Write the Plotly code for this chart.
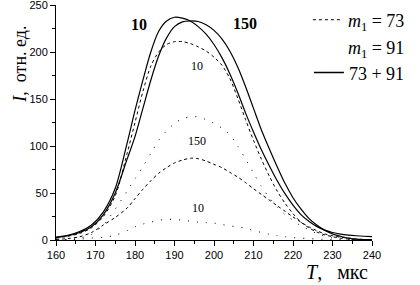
import plotly.graph_objects as go

T = [160, 163, 166, 169, 172, 175, 178, 180, 182, 184, 186, 188, 190, 192, 194, 196, 198, 200,
     202, 204, 206, 208, 210, 212, 214, 216, 218, 220, 222, 224, 226, 228, 230, 232, 234, 236, 238, 240]

sum_10 = [3, 5, 9, 16, 30, 55, 103, 138, 170, 200, 222, 233, 237, 236, 233, 227, 219, 208,
          194, 177, 157, 135, 115, 96, 79, 63, 49, 37, 27, 20, 14.5, 10.5, 8, 6.3, 5.2, 4.5, 4, 3.5]
sum_150 = [2.5, 4.5, 8, 14, 27, 50, 86, 110, 140, 170, 196, 215, 227, 232, 233, 232.5, 229, 223,
           214, 201, 184, 163, 140, 117, 97, 78, 60, 45, 33, 23, 16, 10.5, 6.5, 4, 2, 1, 0.5, 0.3]
m73_10 = [2, 4, 7, 13, 25, 47, 92, 125, 158, 185, 200, 208, 211, 211, 209, 205.5, 201, 194.5,
          186, 172, 151, 128, 106, 86, 68, 52, 39, 28, 19, 13, 8.5, 5.5, 3.5, 2, 1, 0.5, 0.2, 0]
m73_150 = [0.5, 1.5, 3.5, 8, 16, 24, 34, 44, 54, 63, 71, 77, 82, 85, 87, 86.5, 84, 80.5,
           77, 72, 67, 61, 54.5, 48.5, 42.5, 36.5, 30.5, 24.5, 19, 14, 10, 6.5, 4.5, 3, 2, 1, 0.5, 0.2]
m91_10 = [0, 0.3, 1, 2, 3, 5, 10, 14, 17, 19, 21, 22, 22, 21, 20, 19, 18.5, 18,
          16.5, 15, 14, 12.5, 10, 8, 6, 4.5, 3.5, 2.5, 2, 1.5, 1, 0.7, 0.5, 0.3, 0.2, 0.1, 0, 0]
m91_150 = [0, 0.5, 2, 6, 16, 33, 52, 65, 78, 92, 106, 116, 124, 129, 131, 131, 128, 124,
           119, 112, 100, 86, 71, 57, 45, 35, 27, 21, 15, 11, 7, 4, 2, 1, 0.5, 0.2, 0, 0]

x_ticks = [160, 170, 180, 190, 200, 210, 220, 230, 240]
y_ticks = [0, 50, 100, 150, 200, 250]

legend_names = ["<i>m</i><sub>1</sub> = 73", "<i>m</i><sub>1</sub> = 91", "73 + 91"]

# curve labels: (text, T, I, bold)
labels = [("10", 181, 229, True), ("150", 207.8, 230, True),
          ("10", 195.7, 185, False), ("150", 195.7, 105, False), ("10", 196, 34, False)]

SERIF = "Liberation Serif, Times New Roman, serif"
SANS = "Liberation Sans, Arial, sans-serif"

fig = go.Figure()
dash73 = "3px,3px"
dot91 = "1px,8px"
for ys in [m73_10, m73_150]:
    fig.add_trace(go.Scatter(x=T, y=ys, mode="lines",
                             line=dict(color="black", width=1, dash=dash73, shape="spline", smoothing=0.8),
                             showlegend=False, hoverinfo="skip"))
for ys in [m91_10, m91_150]:
    fig.add_trace(go.Scatter(x=T, y=ys, mode="lines",
                             line=dict(color="black", width=1, dash=dot91, shape="spline", smoothing=0.8),
                             showlegend=False, hoverinfo="skip"))
for ys in [sum_10, sum_150]:
    fig.add_trace(go.Scatter(x=T, y=ys, mode="lines",
                             line=dict(color="black", width=1.2, shape="spline", smoothing=0.8),
                             showlegend=False, hoverinfo="skip"))

# legend entries, one legend each so rows can be spaced like the original
legend_lines = [dict(color="black", width=1, dash=dash73),
                dict(color="rgba(0,0,0,0)", width=0),
                dict(color="black", width=1.5)]
legend_ids = ["legend", "legend2", "legend3"]
for name, ln, lid in zip(legend_names, legend_lines, legend_ids):
    fig.add_trace(go.Scatter(x=[None], y=[None], mode="lines", line=ln, name=name, legend=lid))

for txt, tx, ty, bold in labels:
    fig.add_annotation(x=tx, y=ty, text=f"<b>{txt}</b>" if bold else txt, showarrow=False,
                       font=dict(family=SERIF, size=16 if bold else 12, color="#000000"))

fig.add_annotation(xref="paper", yref="paper", x=-0.114, y=0.75, xanchor="center", yanchor="middle",
                   text="<i>I</i>,  отн. ед.", textangle=-90,
                   showarrow=False, font=dict(family=SERIF, size=18, color="#000000"))
fig.add_annotation(xref="paper", yref="paper", x=0.994, y=-0.135, xanchor="right", yanchor="middle",
                   text="<i>T</i>,   мкс", showarrow=False, font=dict(family=SERIF, size=20, color="#000000"))

leg_common = dict(x=1.12, xanchor="right", yanchor="middle", bgcolor="rgba(0,0,0,0)",
                  font=dict(family=SERIF, size=18, color="black"), itemwidth=30)

fig.update_layout(
    width=420, height=285,
    margin=dict(l=56, r=48, t=5, b=45, autoexpand=False),
    paper_bgcolor="white", plot_bgcolor="white",
    showlegend=True,
    legend=dict(y=0.936, **leg_common),
    legend2=dict(y=0.821, **leg_common),
    legend3=dict(y=0.711, **leg_common),
    xaxis=dict(range=[160, 240], tickvals=x_ticks, ticks="outside", ticklen=5, tickcolor="black",
               showline=True, linecolor="black", linewidth=1, showgrid=False, zeroline=False,
               automargin=False, ticklabeloverflow="allow",
               tickfont=dict(family=SANS, size=11, color="black"),
               minor=dict(dtick=5, ticks="outside", ticklen=3, tickcolor="black")),
    yaxis=dict(range=[0, 250.01], tickvals=y_ticks, ticks="outside", ticklen=5, tickcolor="black",
               showline=True, linecolor="black", linewidth=1, showgrid=False, zeroline=False,
               automargin=False, ticklabeloverflow="allow",
               tickfont=dict(family=SANS, size=11, color="black"),
               minor=dict(dtick=25, ticks="outside", ticklen=3, tickcolor="black")),
)

fig.write_html("out.html", config={"displayModeBar": False},
               post_script="document.body.style.margin='0px';")
